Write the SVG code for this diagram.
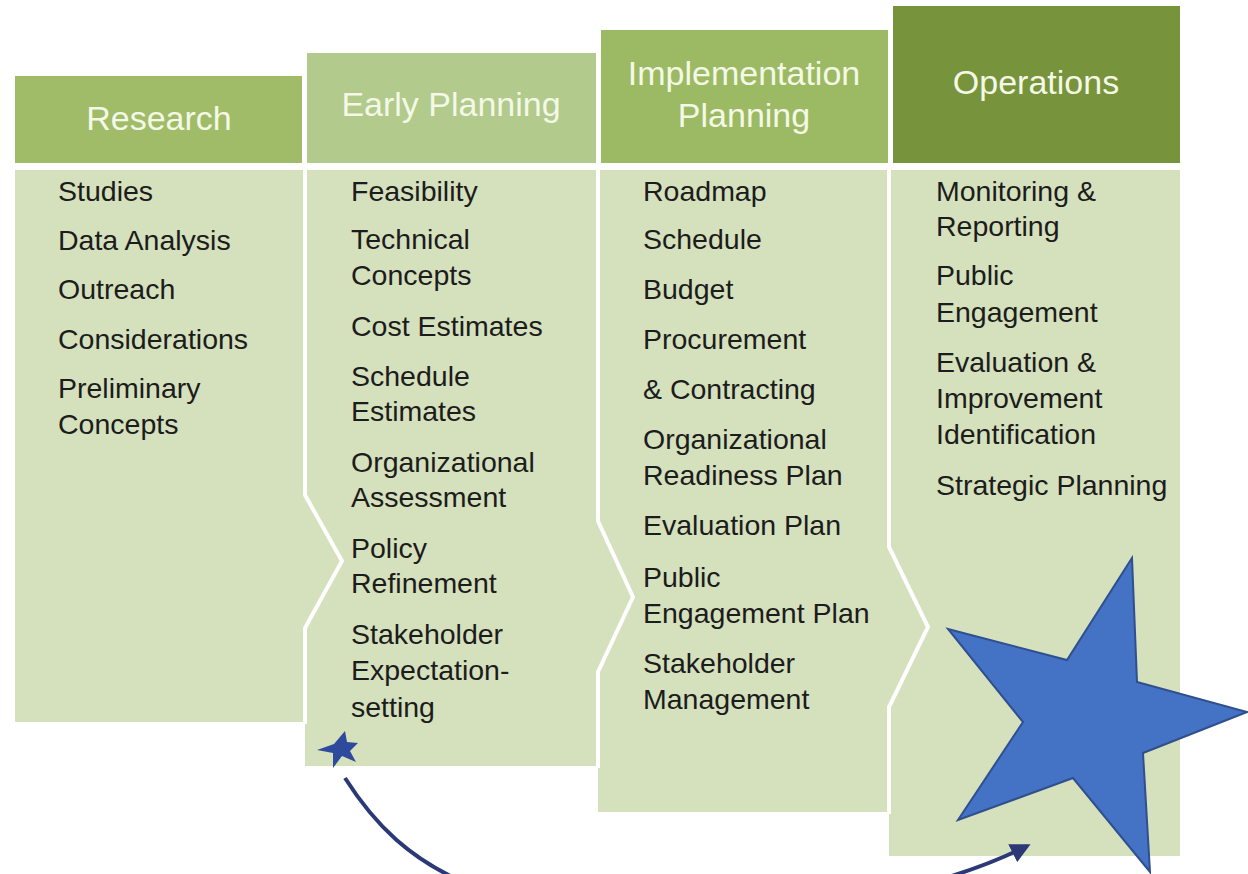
<svg xmlns="http://www.w3.org/2000/svg" width="1248" height="874" viewBox="0 0 1248 874">
<defs>
<style>
.body{fill:#d5e0bd}
.hd{font-family:"Liberation Sans",Arial,sans-serif;font-size:34px;fill:#f4f8e6;text-anchor:middle}
.it{font-family:"Liberation Sans",Arial,sans-serif;font-size:28.5px;fill:#1c1c1c}
.sep{fill:none;stroke:#ffffff;stroke-width:4;stroke-linejoin:miter}
.star{fill:#4472c4;stroke:#2f4f8f;stroke-width:2;stroke-linejoin:miter}
</style>
<marker id="ah" viewBox="0 0 10 10" refX="8" refY="5" markerWidth="5" markerHeight="5" orient="auto" markerUnits="strokeWidth">
<path d="M0,0 L10,5 L0,10 z" fill="#2b3a76"/>
</marker>
</defs>
<rect width="1248" height="874" fill="#ffffff"/>

<g id="operations">
<rect x="893" y="6" width="287" height="157" fill="#77933c"/>
<rect class="body" x="889" y="170" width="291" height="686"/>
<text class="hd" x="1036" y="94">Operations</text>
<text class="it" x="936" y="201">Monitoring &amp;</text>
<text class="it" x="936" y="236">Reporting</text>
<text class="it" x="936" y="285">Public</text>
<text class="it" x="936" y="322">Engagement</text>
<text class="it" x="936" y="372">Evaluation &amp;</text>
<text class="it" x="936" y="408">Improvement</text>
<text class="it" x="936" y="444">Identification</text>
<text class="it" x="936" y="495">Strategic Planning</text>
</g>

<g id="implementation-planning">
<rect x="601" y="30" width="287" height="133" fill="#9cba63"/>
<polygon class="body" points="598,170 889,170 889,547 928,627 889,707 889,812 598,812"/>
<text class="hd" x="744" y="85">Implementation</text>
<text class="hd" x="744" y="127">Planning</text>
<text class="it" x="643" y="201">Roadmap</text>
<text class="it" x="643" y="249">Schedule</text>
<text class="it" x="643" y="299">Budget</text>
<text class="it" x="643" y="349">Procurement</text>
<text class="it" x="643" y="399">&amp; Contracting</text>
<text class="it" x="643" y="449">Organizational</text>
<text class="it" x="643" y="485">Readiness Plan</text>
<text class="it" x="643" y="535">Evaluation Plan</text>
<text class="it" x="643" y="587">Public</text>
<text class="it" x="643" y="623">Engagement Plan</text>
<text class="it" x="643" y="673">Stakeholder</text>
<text class="it" x="643" y="709">Management</text>
</g>

<g id="early-planning">
<rect x="307" y="53" width="289" height="110" fill="#b2ca8c"/>
<polygon class="body" points="305,170 598,170 598,521 633,597 598,672 598,766 305,766"/>
<text class="hd" x="451" y="116">Early Planning</text>
<text class="it" x="351" y="201">Feasibility</text>
<text class="it" x="351" y="249">Technical</text>
<text class="it" x="351" y="285">Concepts</text>
<text class="it" x="351" y="336">Cost Estimates</text>
<text class="it" x="351" y="386">Schedule</text>
<text class="it" x="351" y="421">Estimates</text>
<text class="it" x="351" y="472">Organizational</text>
<text class="it" x="351" y="507">Assessment</text>
<text class="it" x="351" y="558">Policy</text>
<text class="it" x="351" y="593">Refinement</text>
<text class="it" x="351" y="644">Stakeholder</text>
<text class="it" x="351" y="680">Expectation-</text>
<text class="it" x="351" y="717">setting</text>
</g>

<g id="research">
<rect x="15" y="76" width="287" height="87" fill="#a0bc68"/>
<polygon class="body" points="15,170 305,170 305,495 342,561 305,628 305,722 15,722"/>
<text class="hd" x="159" y="130">Research</text>
<text class="it" x="58" y="201">Studies</text>
<text class="it" x="58" y="250">Data Analysis</text>
<text class="it" x="58" y="299">Outreach</text>
<text class="it" x="58" y="349">Considerations</text>
<text class="it" x="58" y="398">Preliminary</text>
<text class="it" x="58" y="434">Concepts</text>
</g>

<g id="separators">
<polyline class="sep" points="305,168 305,495 342,561 305,628 305,724"/>
<polyline class="sep" points="598,168 598,521 633,597 598,672 598,768"/>
<polyline class="sep" points="889,168 889,547 928,627 889,707 889,814"/>
</g>

<g id="stars">
<polygon class="star" points="1132,558 1137,682 1247,712 1143,753 1150,872 1073,778 958,820 1023,722 948,629 1067,660"/>
<polygon points="345,731 347,742 358,743 350,751 356,762 342,756 333,768 333,753 317,750 334,744" fill="#2e4a9c"/>
</g>

<g id="connectors">
<path d="M345,778 C375,825 410,860 470,885 C600,940 880,920 1027,846" fill="none" stroke="#2b3a76" stroke-width="4" marker-end="url(#ah)"/>
</g>
</svg>
